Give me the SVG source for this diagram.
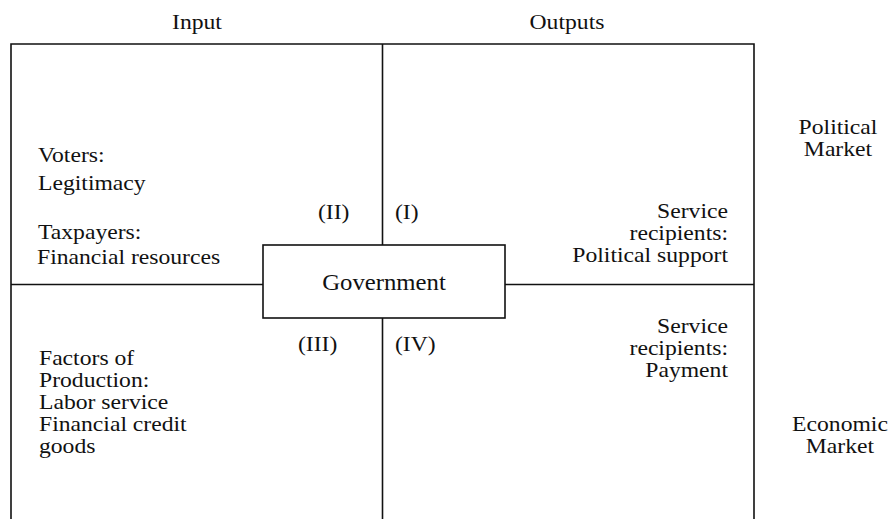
<svg xmlns="http://www.w3.org/2000/svg" width="892" height="519" viewBox="0 0 892 519">
<style>
  text { font-family: "Liberation Serif", "Times New Roman", serif; font-size: 21.5px; fill: #111; }
  .ln { stroke: #111; stroke-width: 1.6; fill: none; }
  .box { stroke: #111; stroke-width: 1.6; fill: #fff; }
  .m { text-anchor: middle; }
  .e { text-anchor: end; }
  .g { font-size: 22.5px; }
</style>
<rect width="892" height="519" fill="#fff"/>
<g id="frame">
  <path class="ln" d="M11,522 V44 H754 V522"/>
</g>
<g id="connectors">
  <line class="ln" x1="382.5" y1="44" x2="382.5" y2="245"/>
  <line class="ln" x1="382.5" y1="318" x2="382.5" y2="522"/>
  <line class="ln" x1="11" y1="284.5" x2="263" y2="284.5"/>
  <line class="ln" x1="505" y1="284.5" x2="754" y2="284.5"/>
</g>
<g id="government">
  <rect class="box" x="263" y="245" width="242" height="73"/>
  <text class="m g" x="349.09" y="290" transform="scale(1.1 1)">Government</text>
</g>
<g id="headers" transform="scale(1.1 1)">
  <text class="m" x="179.09" y="29">Input</text>
  <text class="m" x="515.45" y="29">Outputs</text>
</g>
<g id="political-market" transform="scale(1.1 1)">
  <text class="m" x="761.82" y="134">Political</text>
  <text class="m" x="761.82" y="156">Market</text>
</g>
<g id="economic-market" transform="scale(1.1 1)">
  <text class="m" x="763.64" y="431">Economic</text>
  <text class="m" x="763.64" y="453">Market</text>
</g>
<g id="quadrant-II" transform="scale(1.1 1)">
  <text x="34.55" y="162">Voters:</text>
  <text x="34.55" y="190">Legitimacy</text>
  <text x="34.55" y="239">Taxpayers:</text>
  <text x="33.64" y="264">Financial resources</text>
  <text x="289.09" y="219">(II)</text>
</g>
<g id="quadrant-I" transform="scale(1.1 1)">
  <text x="359.09" y="219">(I)</text>
  <text class="e" x="661.82" y="218">Service</text>
  <text class="e" x="661.82" y="240">recipients:</text>
  <text class="e" x="661.82" y="262">Political support</text>
</g>
<g id="quadrant-III" transform="scale(1.1 1)">
  <text x="270.91" y="351">(III)</text>
  <text x="35.45" y="365">Factors of</text>
  <text x="35.45" y="387">Production:</text>
  <text x="35.45" y="409">Labor service</text>
  <text x="35.45" y="431">Financial credit</text>
  <text x="35.45" y="453">goods</text>
</g>
<g id="quadrant-IV" transform="scale(1.1 1)">
  <text x="359.09" y="351">(IV)</text>
  <text class="e" x="661.82" y="333">Service</text>
  <text class="e" x="661.82" y="355">recipients:</text>
  <text class="e" x="661.82" y="377">Payment</text>
</g>
</svg>
